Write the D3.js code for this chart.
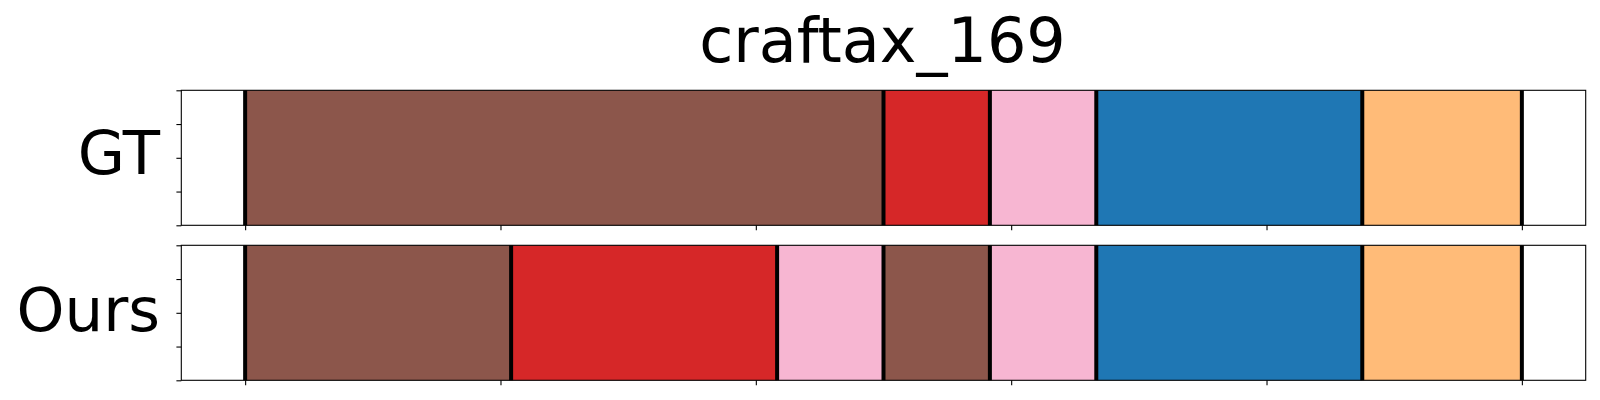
<!DOCTYPE html>
<html>
<head>
<meta charset="utf-8">
<script src="https://cdn.jsdelivr.net/npm/d3@7"></script>
<style>
html,body{margin:0;padding:0;background:#fff;}
svg{display:block;}
text{font-family:"DejaVu Sans",sans-serif;fill:#000;}
</style>
</head>
<body>
<svg id="chart" width="1600" height="400"></svg>
<script>
// ---- data ----
const title = "craftax_169";
const rowLabels = ["GT", "Ours"];
const xTicks = [0, 4.8, 9.6, 14.4, 19.2, 24];
const yTicks = [0, 0.25, 0.5, 0.75, 1];
// segments: start, end, color
const gtStarts = [0, 12, 14, 16, 21];
const gtEnds   = [12, 14, 16, 21, 24];
const gtColors = ["#8c564b", "#d62728", "#f7b6d2", "#1f77b4", "#ffbb78"];
const oursStarts = [0, 5, 10, 12, 14, 16, 21];
const oursEnds   = [5, 10, 12, 14, 16, 21, 24];
const oursColors = ["#8c564b", "#d62728", "#f7b6d2", "#8c564b", "#f7b6d2", "#1f77b4", "#ffbb78"];

const rows = [
  {label: rowLabels[0], starts: gtStarts, ends: gtEnds, colors: gtColors, top: 90.3},
  {label: rowLabels[1], starts: oursStarts, ends: oursEnds, colors: oursColors, top: 245.3}
];

const svg = d3.select("#chart");
const left = 181.3, right = 1585.7, axH = 135;
const x = d3.scaleLinear().domain([-1.2, 25.2]).range([left, right]);

svg.append("text")
  .attr("x", (left + right) / 2 - 1).attr("y", 62)
  .attr("text-anchor", "middle")
  .style("font-size", "62px")
  .text(title);

rows.forEach((r, ri) => {
  const y = d3.scaleLinear().domain([0, 1]).range([r.top + axH, r.top]);
  const g = svg.append("g");
  const segs = r.starts.map((s, i) => ({s, e: r.ends[i], c: r.colors[i]}));
  g.selectAll("rect.seg").data(segs).enter().append("rect")
    .attr("class", "seg")
    .attr("x", d => x(d.s)).attr("width", d => x(d.e) - x(d.s))
    .attr("y", y(1)).attr("height", y(0) - y(1))
    .attr("fill", d => d.c);
  const bounds = Array.from(new Set(r.starts.concat(r.ends)));
  g.selectAll("line.b").data(bounds).enter().append("line")
    .attr("x1", d => x(d)).attr("x2", d => x(d))
    .attr("y1", y(0)).attr("y2", y(1))
    .attr("stroke", "#000").attr("stroke-width", 4);

  // axes
  const xa = d3.axisBottom(x).tickValues(xTicks).tickFormat("").tickSize(4.9).tickSizeOuter(0);
  const ga = g.append("g").attr("transform", `translate(0,${r.top + axH})`).call(xa);
  const ya = d3.axisLeft(y).tickValues(yTicks).tickFormat("").tickSize(4.9).tickSizeOuter(0);
  const gy = g.append("g").attr("transform", `translate(${left},0)`).call(ya);
  [ga, gy].forEach(a => {
    a.select(".domain").remove();
    a.selectAll(".tick line").attr("stroke", "#000").attr("stroke-width", 1.1);
  });
  g.append("rect")
    .attr("x", left).attr("y", r.top).attr("width", right - left).attr("height", axH)
    .attr("fill", "none").attr("stroke", "#000").attr("stroke-width", 1.1);

  g.append("text")
    .attr("x", 160).attr("y", r.top + axH / 2 + (ri === 0 ? 16.2 : 18.2))
    .attr("text-anchor", "end")
    .style("font-size", "61px")
    .text(r.label);
});
</script>
</body>
</html>
